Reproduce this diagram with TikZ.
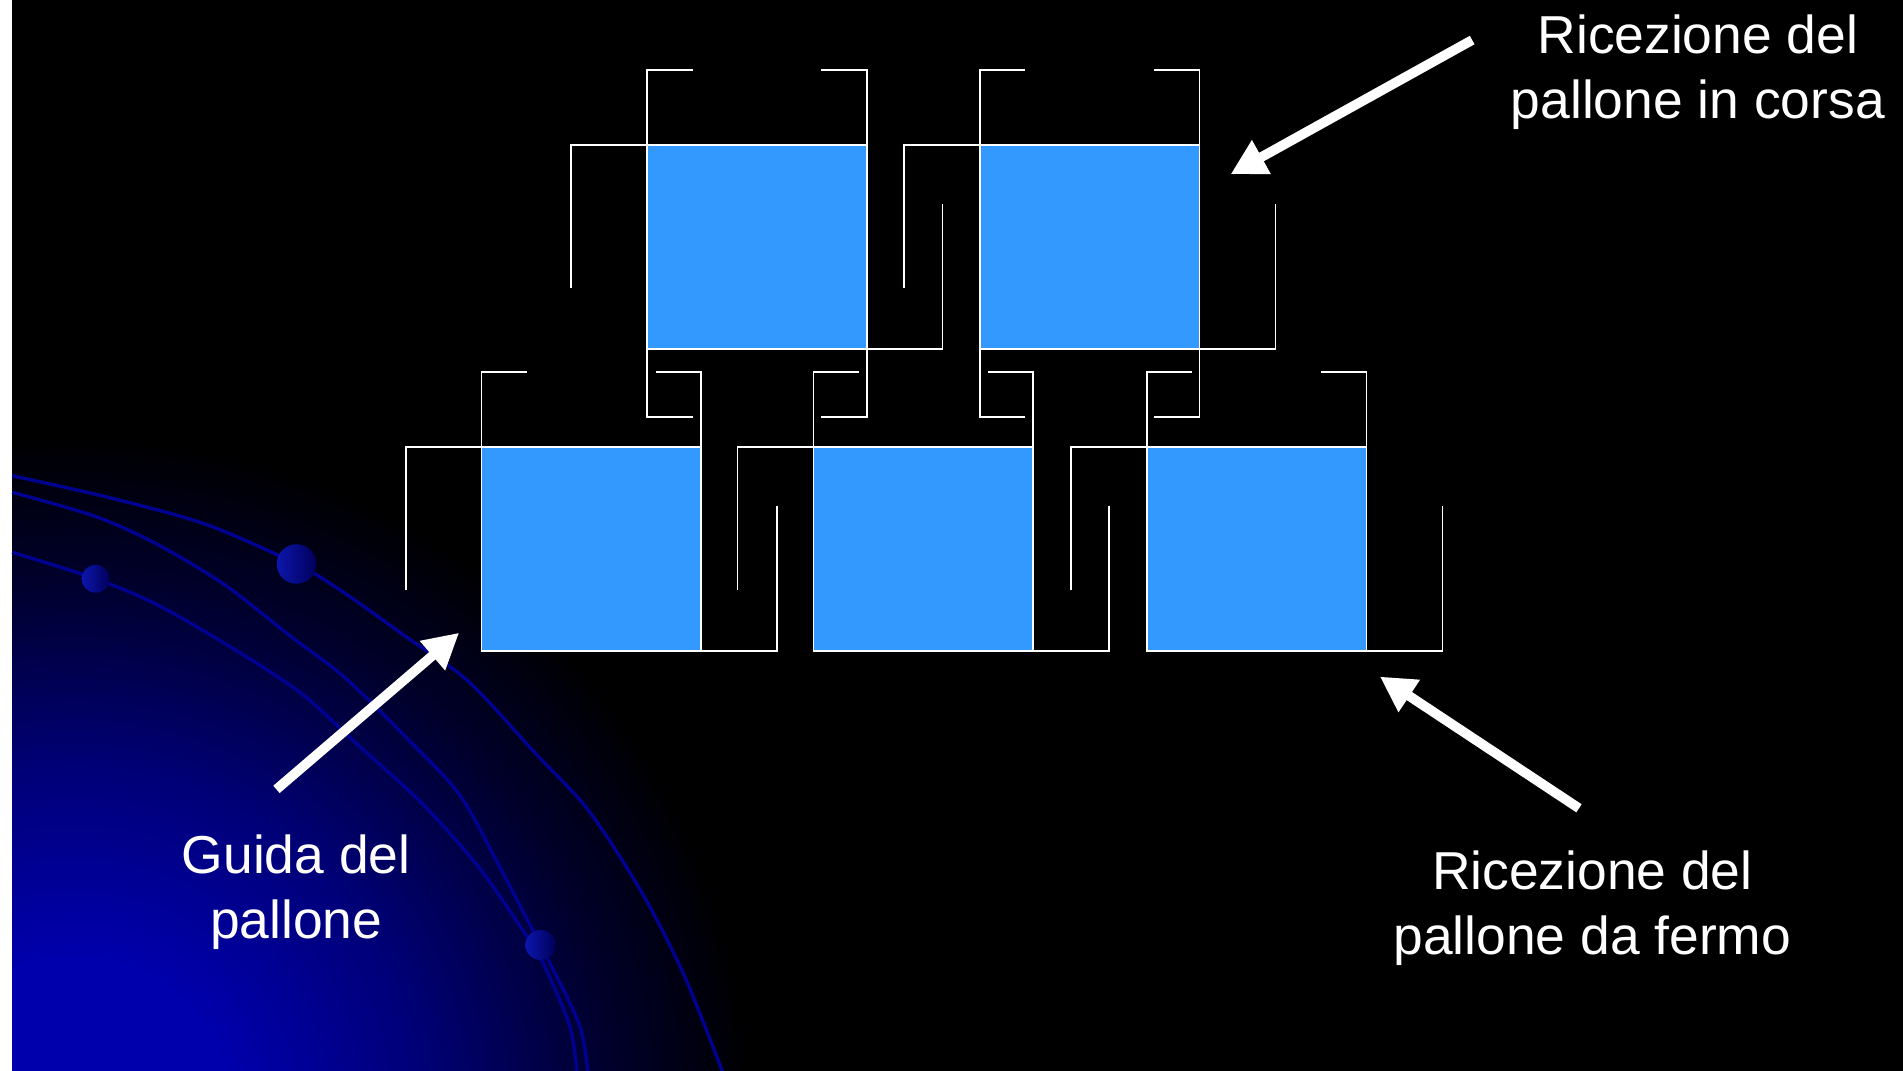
\documentclass[tikz,border=0pt]{standalone}
\usepackage{fontspec}
\setmainfont{Liberation Sans}
\usetikzlibrary{arrows.meta}

\definecolor{cellblue}{RGB}{51,153,255}
\definecolor{arcblue}{RGB}{0,0,145}
\definecolor{glowblue}{RGB}{0,0,172}
\definecolor{glowmid}{RGB}{0,0,120}
\definecolor{glowlow}{RGB}{0,0,45}
\definecolor{ballhi}{RGB}{12,22,172}
\definecolor{balllo}{RGB}{0,0,90}

% soft blue glow in the lower left corner (25bp = radius of the filled circle)
\pgfdeclareradialshading{cornerglow}{\pgfpoint{0bp}{0bp}}{%
  color(0bp)=(glowblue); color(3bp)=(glowblue); color(6.5bp)=(glowmid);
  color(10bp)=(glowlow); color(12.75bp)=(black); color(50bp)=(black)}

\tikzset{
  cellbox/.style={draw=white, line width=1.5pt, fill=cellblue,
    minimum width=181pt, minimum height=168pt, inner sep=0pt, outer sep=0pt},
  wire/.style={draw=white, line width=1.3pt},
  orbit/.style={draw=arcblue, line width=2.8pt},
  pointer/.style={draw=white, line width=8pt,
    -{Triangle[length=29pt,width=30pt]}},
  caption/.style={text=white, inner sep=0pt, anchor=base,
    font=\fontsize{44}{53.5}\selectfont},
}

% one cell: filled square, top brackets, left hook and right hook
\newcommand\cellunit[3]{%
  \begin{scope}[shift={(#2,#3)}]
    \node[cellbox, anchor=north west] (#1) at (0,0) {};
    \draw[wire] (37.5,-62) -- (0,-62) -- (#1.north west) -- (-62.5,0) -- (-62.5,118);
    \draw[wire] (143.5,-62) -- (181,-62) -- (#1.north east);
    \draw[wire] (#1.south east) -- (243.5,168) -- (243.5,49);
  \end{scope}}
% extra brackets under a cell of the upper row
\newcommand\cellfoot[3]{%
  \begin{scope}[shift={(#2,#3)}]
    \draw[wire] (37.5,224) -- (0,224) -- (#1.south west);
    \draw[wire] (143.5,224) -- (181,224) -- (#1.south east);
  \end{scope}}

\begin{document}
\begin{tikzpicture}[x=1pt,y=-1pt]
  \useasboundingbox (0,0) rectangle (1568,882);
  \fill[black] (-6,-6) rectangle (1574,888);
  \begin{scope}
    \clip (10,-6) rectangle (1574,888);
    \fill[shading=cornerglow] (60,920) circle (1100);
  \end{scope}
  \fill[white] (-6,-6) rectangle (10,888);

  % orbit lines with their beads
  \draw[orbit] plot[smooth] coordinates {(10,392) (90,410) (169.5,432) (244.3,464.7)
    (283.8,488.6) (335,525) (386,561.5) (441.4,621) (484.7,667.5) (528,734)
    (563.6,803.4) (598,890)};
  \draw[orbit] plot[smooth] coordinates {(10,405.6) (78.8,425.6) (130,448.7)
    (185.2,481.9) (240.4,525) (283.8,558) (335,608) (378.3,654.3) (410,711)
    (433,755) (451.8,791) (477.9,846) (485,890)};
  \draw[orbit] plot[smooth] coordinates {(10,455) (78.8,476.9) (130,498.5)
    (193.1,535) (248.3,571.4) (295.6,614.5) (346.8,661) (394,714) (433.4,770.4)
    (446.3,791) (469.6,846) (476,890)};
  \shade[left color=ballhi, right color=balllo] (244.3,464.7) circle (16.3);
  \shade[left color=ballhi, right color=balllo] (78.8,476.9) circle (11.5);
  \shade[left color=ballhi, right color=balllo] (445.3,778.6) circle (12.4);

  % upper row
  \cellunit{ua}{533.2}{119.5}
  \cellunit{ub}{807.4}{119.5}
  \cellfoot{ua}{533.2}{119.5}
  \cellfoot{ub}{807.4}{119.5}
  % lower row
  \cellunit{la}{396.8}{368.3}
  \cellunit{lb}{670.3}{368.3}
  \cellunit{lc}{945}{368.3}

  % captions
  \node[caption] (capcorsa) at (1399,44)
    {\begin{tabular}[t]{@{}c@{}}Ricezione del\\pallone in corsa\end{tabular}};
  \node[caption] (capfermo) at (1312,733)
    {\begin{tabular}[t]{@{}c@{}}Ricezione del\\pallone da fermo\end{tabular}};
  \node[caption] (capguida) at (244,719.6)
    {\begin{tabular}[t]{@{}c@{}}Guida del\\pallone\end{tabular}};

  % pointers
  \coordinate (corsatail) at (1213,33);
  \coordinate (corsatip) at (1014,143.5);
  \coordinate (fermotail) at (1301,666);
  \coordinate (fermotip) at (1137,557.5);
  \coordinate (guidatail) at (227.8,650.4);
  \coordinate (guidatip) at (378.3,521.4);
  \draw[pointer] (corsatail) -- (corsatip);
  \draw[pointer] (fermotail) -- (fermotip);
  \draw[pointer] (guidatail) -- (guidatip);
\end{tikzpicture}
\end{document}
